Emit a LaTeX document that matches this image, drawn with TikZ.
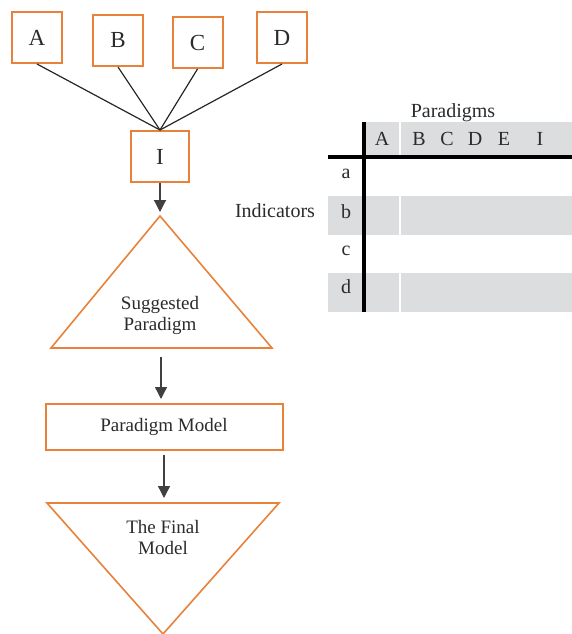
\documentclass[tikz,border=0pt]{standalone}
\usepackage{fontspec}
\setmainfont{Liberation Serif}
\usetikzlibrary{arrows.meta, positioning}
\definecolor{boxorange}{HTML}{E8823A}
\definecolor{cellgray}{HTML}{DCDDDF}
\definecolor{inkgray}{HTML}{2B2B2B}

\tikzset{
  letterbox/.style={draw=boxorange, line width=2pt, text=inkgray,
    minimum width=50pt, minimum height=51pt, inner sep=0pt,
    font=\fontsize{23}{26}\selectfont},
  flowtext/.style={text=inkgray, align=center, inner sep=0pt,
    font=\fontsize{19}{21}\selectfont},
  tabtext/.style={text=inkgray, anchor=base, inner sep=0pt,
    font=\fontsize{20}{22}\selectfont},
  tri/.style={draw=boxorange, line width=1.6pt, line join=miter},
  flowarrow/.style={draw=inkgray!90, line width=1.3pt,
    -{Triangle[width=12pt,length=12pt]}},
  spoke/.style={draw=black!85, line width=1.2pt}
}

\begin{document}
\begin{tikzpicture}[x=1pt, y=-1pt]
	\useasboundingbox (0,0) rectangle (572,634);
	% Source boxes
	\node[letterbox] (A) at (37,37.5) {A};
	\node[letterbox] (B) at (118,40.5) {B};
	\node[letterbox] (C) at (197.5,42.5) {C};
	\node[letterbox] (D) at (282,37.5) {D};
	\node[letterbox, minimum width=58pt] (I) at (160,156.5) {I};
	\foreach \s in {A,B,C,D}
		\draw[spoke] (\s.south) -- (I.north);
	% Suggested paradigm
	\coordinate (sugtop) at (160,216);
	\coordinate (sugbase) at (161,348);
	\draw[tri] (sugtop) -- (272,348) -- (51,348) -- cycle;
	\node[flowtext] (sug) at (160,315) {Suggested\\Paradigm};
	\draw[flowarrow, shorten >=4pt] (I.south) -- (sugtop);
	% Paradigm model
	\node[letterbox, minimum width=237pt, minimum height=46pt,
		font=\fontsize{19}{21}\selectfont] (pm) at (164,427) {Paradigm Model};
	\draw[flowarrow, shorten <=9pt, shorten >=4pt] (sugbase) -- (sugbase |- pm.north);
	% Final model
	\coordinate (fintop) at (164,503);
	\draw[tri] (47,503) -- (279,503) -- (163,634) -- cycle;
	\node[flowtext] (fin) at (163,537) {The Final\\Model};
	\draw[flowarrow, shorten <=4pt, shorten >=5pt] (pm.south) -- (fintop);
	% Table
	\fill[cellgray] (366,122) rectangle (398.5,155);
	\fill[cellgray] (401,122) rectangle (572,155);
	\foreach \ya/\yb in {196/235, 273/312} {
		\fill[cellgray] (328,\ya) rectangle (362,\yb);
		\fill[cellgray] (366,\ya) rectangle (398.5,\yb);
		\fill[cellgray] (401,\ya) rectangle (572,\yb);
	}
	\draw[black, line width=3.5pt] (328,157) -- (572,157);
	\draw[black, line width=3.5pt] (364,122) -- (364,312);
	\node[tabtext] (paradigms) at (453,117) {Paradigms};
	\node[tabtext] (indicators) at (275,217) {Indicators};
	\foreach \c/\x in {A/382, B/419, C/447, D/475, E/504, I/540}
		\node[tabtext] (col\c) at (\x,145) {\c};
	\foreach \r/\y in {a/178, b/218, c/255, d/293}
		\node[tabtext] (row\r) at (346,\y) {\r};
\end{tikzpicture}
\end{document}
